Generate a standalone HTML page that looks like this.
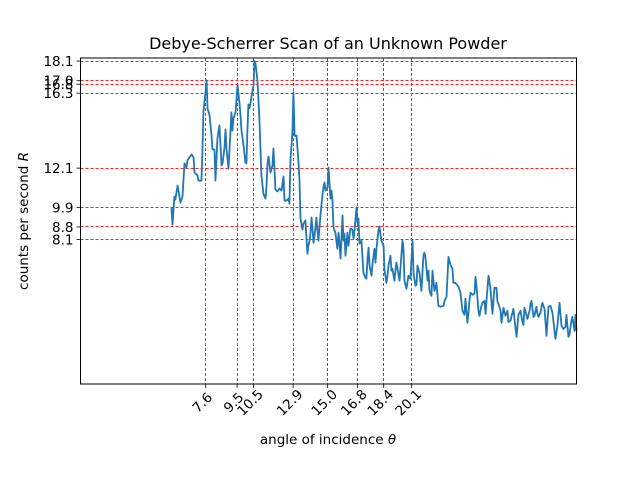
<!DOCTYPE html>
<html><head><meta charset="utf-8"><style>
body{margin:0;background:#fff;}
svg{display:block;font-family:"DejaVu Sans","Liberation Sans",sans-serif;}
</style></head><body>
<svg id="chart" width="640" height="480" viewBox="0 0 640 480">
<rect width="640" height="480" fill="#fff"/>
<g id="grid"></g>
<g id="series"></g>
<rect x="80.5" y="58" width="496" height="326" fill="none" stroke="#000" stroke-width="1"/>
<g id="xticks"></g>
<g id="yticks"></g>
<text x="328" y="49" font-size="16" text-anchor="middle">Debye-Scherrer Scan of an Unknown Powder</text>
<text x="328" y="444" font-size="13.5" text-anchor="middle">angle of incidence <tspan font-style="italic">θ</tspan></text>
<text transform="translate(28,221) rotate(-90)" font-size="13.5" text-anchor="middle">counts per second <tspan font-style="italic">R</tspan></text>
</svg>
<script>
const xPeaks=[7.6,9.5,10.5,12.9,15.0,16.8,18.4,20.1];
const xTickLabels=["7.6","9.5","10.5","12.9","15.0","16.8","18.4","20.1"];
const yPeaks=[18.1,17.0,16.8,16.3,12.1,9.9,8.8,8.1];
const yTickLabels=["18.1","17.0","16.8","16.3","12.1","9.9","8.8","8.1"];
const angles=[5.52,5.58,5.70,5.76,5.89,6.07,6.19,6.31,6.43,6.49,6.74,6.86,6.92,7.10,7.16,7.34,7.40,7.46,7.58,7.65,7.71,7.83,7.95,8.01,8.13,8.19,8.31,8.43,8.56,8.62,8.74,8.80,8.86,8.98,9.10,9.16,9.22,9.28,9.41,9.53,9.65,9.71,9.77,9.89,10.01,10.07,10.13,10.19,10.25,10.32,10.38,10.50,10.56,10.62,10.68,10.74,10.86,10.98,11.10,11.23,11.29,11.35,11.41,11.53,11.65,11.71,11.83,11.95,12.08,12.20,12.32,12.38,12.50,12.62,12.68,12.74,12.86,12.92,12.99,13.05,13.11,13.23,13.29,13.35,13.47,13.53,13.65,13.77,13.83,13.90,13.96,14.02,14.08,14.14,14.20,14.32,14.38,14.44,14.56,14.68,14.75,14.81,14.87,14.99,15.05,15.17,15.23,15.29,15.35,15.47,15.53,15.59,15.66,15.72,15.78,15.90,15.96,16.02,16.08,16.20,16.26,16.38,16.50,16.57,16.63,16.75,16.81,16.87,16.93,17.05,17.17,17.29,17.35,17.42,17.48,17.54,17.66,17.72,17.84,17.90,17.96,18.08,18.14,18.26,18.39,18.45,18.57,18.63,18.69,18.81,18.87,18.93,19.05,19.17,19.24,19.36,19.54,19.60,19.66,19.78,19.90,20.02,20.15,20.21,20.33,20.39,20.45,20.57,20.69,20.81,20.87,20.93,21.06,21.12,21.18,21.30,21.36,21.48,21.54,21.60,21.72,21.84,22.03,22.09,22.21,22.33,22.45,22.57,22.63,22.75,22.94,23.06,23.18,23.30,23.36,23.48,23.54,23.60,23.67,23.79,23.91,23.97,24.03,24.15,24.21,24.33,24.39,24.51,24.58,24.64,24.76,24.88,25.00,25.12,25.24,25.30,25.42,25.49,25.55,25.67,25.79,25.91,25.97,26.09,26.21,26.27,26.46,26.58,26.70,26.82,26.88,26.94,27.06,27.12,27.25,27.31,27.37,27.49,27.55,27.67,27.73,27.79,27.91,28.03,28.16,28.28,28.34,28.40,28.52,28.64,28.82,28.94,29.07,29.19,29.31,29.43,29.49,29.61,29.67,29.79,29.85,29.98,30.04,30.10];
const counts=[9.89,8.93,10.51,10.34,11.12,10.17,10.51,12.36,12.13,12.53,12.87,12.70,11.85,11.69,11.40,11.40,13.09,15.28,16.29,17.02,15.45,15.06,13.93,13.15,13.15,11.40,13.76,14.49,12.25,12.36,13.26,14.27,13.20,12.08,14.10,15.22,14.21,14.89,15.22,16.74,15.73,15.06,14.21,13.37,12.42,12.36,14.21,15.67,15.45,15.73,16.12,16.74,18.10,17.98,17.47,17.02,14.78,11.69,10.67,10.39,11.12,12.36,12.75,11.85,12.25,13.20,10.90,10.79,10.96,10.84,11.63,10.28,10.28,10.39,10.11,12.53,14.10,16.35,13.99,13.88,13.93,12.42,11.40,9.27,8.65,8.99,9.16,7.30,7.75,8.03,8.48,9.33,8.71,7.92,8.26,9.33,8.60,8.03,9.44,10.56,11.07,11.29,10.84,11.01,12.13,10.39,10.84,10.28,8.76,8.48,8.03,7.58,8.48,7.87,7.02,9.44,8.03,8.43,7.19,8.48,7.75,8.71,8.65,8.15,8.60,9.89,9.04,9.27,7.87,8.03,6.24,5.96,5.90,7.02,7.64,6.63,6.07,6.74,7.58,6.80,7.58,8.60,8.82,8.03,7.75,6.35,5.67,6.07,6.63,7.19,6.35,6.46,5.79,6.80,6.46,5.79,8.03,7.58,5.79,5.34,6.07,5.90,8.03,6.18,5.51,5.56,6.63,6.24,5.22,7.19,7.36,7.13,5.79,6.35,5.22,4.94,6.35,5.22,5.39,5.67,4.38,4.33,4.38,4.66,4.89,7.13,6.69,6.46,5.67,5.67,5.45,5.11,4.10,3.88,4.78,3.43,3.93,4.66,5.11,5.00,5.06,6.01,5.51,4.10,3.82,4.38,4.55,4.66,3.93,4.72,6.07,5.34,3.93,5.39,5.39,4.66,4.33,4.10,3.43,4.27,3.82,4.10,3.48,3.54,3.99,4.21,2.64,3.88,4.10,3.48,3.31,4.27,3.88,3.65,4.10,4.49,4.66,3.76,3.82,4.33,3.93,3.76,3.99,4.55,4.21,2.70,3.54,4.33,4.38,3.99,2.53,3.26,4.55,3.26,3.09,3.20,3.88,2.64,2.75,3.54,3.76,2.98,3.88,2.98];
const NS="http://www.w3.org/2000/svg";
const X0=80.5,X1=576.5,Y0=384,Y1=58,XMIN=0,XMAX=30.1,YMIN=0,YMAX=18.27;
function sx(v){return X0+(v-XMIN)/(XMAX-XMIN)*(X1-X0);}
function sy(v){return Y0-(v-YMIN)/(YMAX-YMIN)*(Y0-Y1);}
function snap(p){return Math.round(p-0.5)+0.5;}
function mk(t,a,p){const e=document.createElementNS(NS,t);for(const k in a)e.setAttribute(k,a[k]);p.appendChild(e);return e;}
const grid=document.getElementById('grid');
xPeaks.forEach((v,i)=>{
 const x=snap(sx(v));
 const l=mk('line',{x1:x,x2:x,y1:Y1,y2:Y0,stroke:'#ff2020','stroke-width':1,'stroke-dasharray':'3,2'},grid);
 
 
});
yPeaks.forEach((v,i)=>{
 const y=snap(sy(v));
 const l=mk('line',{x1:X0,x2:X1,y1:y,y2:y,stroke:'#ff2020','stroke-width':1,'stroke-dasharray':'3,2'},grid);
 
 
});
const ser=document.getElementById('series');
const pts=angles.map((a,i)=>sx(a).toFixed(2)+','+sy(counts[i]).toFixed(2)).join(' ');
const pl=mk('polyline',{points:pts,fill:'none',stroke:'#1f77b4','stroke-width':1.8,'stroke-linejoin':'round'},ser);


const xt=document.getElementById('xticks');
xPeaks.forEach((v,i)=>{
 const x=sx(v);
 const t=mk('line',{x1:x,x2:x,y1:Y0,y2:Y0+4,stroke:'#000','stroke-width':0.8},xt);
 
 
 const tx=mk('text',{transform:'translate('+(x-3)+','+(Y0+19)+') rotate(-45)','font-size':13.5,'text-anchor':'middle','dominant-baseline':'central'},xt);
 tx.textContent=xTickLabels[i];
 
 
});
const yt=document.getElementById('yticks');
yPeaks.forEach((v,i)=>{
 const y=sy(v);
 const t=mk('line',{x1:X0-4,x2:X0,y1:y,y2:y,stroke:'#000','stroke-width':0.8},yt);
 
 
 const tx=mk('text',{x:X0-7,y:y+5,'font-size':13.5,'text-anchor':'end'},yt);
 tx.textContent=yTickLabels[i];
 
 
});
</script>
</body></html>
